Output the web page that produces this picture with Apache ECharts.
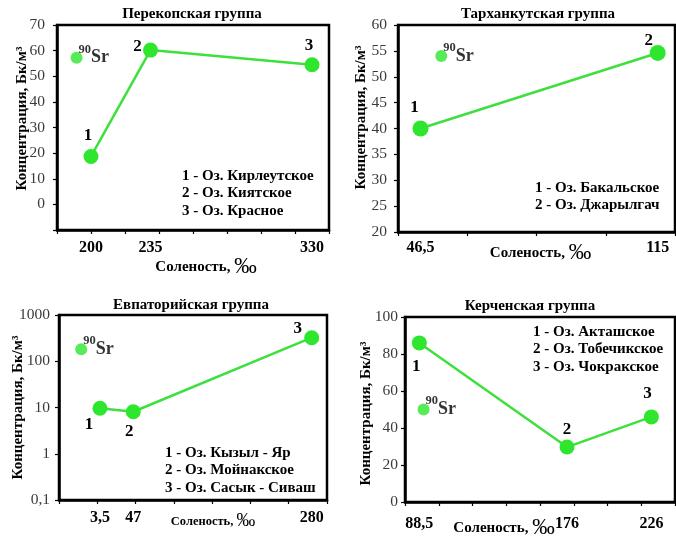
<!DOCTYPE html>
<html><head><meta charset="utf-8">
<script src="https://cdn.jsdelivr.net/npm/echarts@6/dist/echarts.min.js"></script>
<style>html,body{margin:0;padding:0;background:#fff}#c{width:676px;height:539px}</style>
</head><body><div id="c"></div>
<script>
// ---- Data ----
// Перекопская группа
const perekopSalinity = [200, 235, 330];
const perekopConc = [18.7, 60.2, 54.5];
const perekopLakes = ['1 - Оз. Кирлеутское', '2 - Оз. Киятское', '3 - Оз. Красное'];
const perekopSr = [191.5, 57.2];
// Тарханкутская группа
const tarkhSalinity = [46.5, 115];
const tarkhConc = [40, 54.6];
const tarkhLakes = ['1 - Оз. Бакальское', '2 - Оз. Джарылгач'];
const tarkhSr = [52.5, 54];
// Евпаторийская группа
const evpSalinity = [3.5, 47, 280];
const evpConc = [9.6, 8.1, 323];
const evpLakes = ['1 - Оз. Кызыл - Яр', '2 - Оз. Мойнакское', '3 - Оз. Сасык - Сиваш'];
const evpSr = [-21, 181];
// Керченская группа
const kerchSalinity = [88.5, 176, 226];
const kerchConc = [86, 29.7, 46];
const kerchLakes = ['1 - Оз. Акташское', '2 - Оз. Тобечикское', '3 - Оз. Чокракское'];
const kerchSr = [91, 50];

const pointNumbers = ['1', '2', '3'];
const yTitle = 'Концентрация, Бк/м³';
const xTitle = 'Соленость, ';

// ---- Styles / layout ----
const SERIF = '"Liberation Serif", "Times New Roman", serif';
const GREEN = '#2ee62e';
const LINE = '#3de03d';

const panels = [
  { title: 'Перекопская группа', titleX: 192, titleY: 7,
    grid: { left: 57, top: 25, width: 272, height: 205 },
    x: { min: 180, max: 340, interval: 20, margin: 10, nameGap: 26, namePad: [0, 0, 0, 26], nameSize: 15 },
    y: { type: 'value', min: -10, max: 70, interval: 10, margin: 12, nameGap: 27, namePad: [0, 0, 0, 18], hideMin: true },
    xs: perekopSalinity, ys: perekopConc, sr: perekopSr, lakes: perekopLakes,
    legend: { left: 182, top: 167 }, offsets: [[-3, -21], [-13, -4], [-3, -19]], size: 15 },
  { title: 'Тарханкутская группа', titleX: 538, titleY: 7,
    grid: { left: 398, top: 25, width: 277, height: 207 },
    x: { min: 40, max: 120, interval: 20, margin: 8, nameGap: 10, namePad: [0, 0, 0, 8], nameSize: 15 },
    y: { type: 'value', min: 20, max: 60, interval: 5, margin: 11, nameGap: 29, namePad: [0, 0, 0, 22] },
    xs: tarkhSalinity, ys: tarkhConc, sr: tarkhSr, lakes: tarkhLakes,
    legend: { left: 535, top: 179 }, offsets: [[-6, -21], [-9, -12]], size: 16 },
  { title: 'Евпаторийская группа', titleX: 191, titleY: 298,
    grid: { left: 59, top: 315, width: 268, height: 185 },
    x: { min: -50, max: 300, interval: 50, margin: 10, nameGap: 12, namePad: [0, 0, 0, 40], nameSize: 12.5 },
    y: { type: 'log', min: 0.1, max: 1000, margin: 9, nameGap: 33, namePad: [0, 0, 0, 0] },
    xs: evpSalinity, ys: evpConc, sr: evpSr, lakes: evpLakes,
    legend: { left: 165, top: 444 }, offsets: [[-11, 16], [-4, 20], [-14, -9]], size: 15 },
  { title: 'Керченская группа', titleX: 530, titleY: 299,
    grid: { left: 405, top: 317, width: 270, height: 185 },
    x: { min: 80, max: 240, interval: 20, margin: 14, nameGap: 15, namePad: [0, 72, 0, 0], nameSize: 15 },
    y: { type: 'value', min: 0, max: 100, interval: 20, margin: 7, nameGap: 31, namePad: [0, 8, 0, 0] },
    xs: kerchSalinity, ys: kerchConc, sr: kerchSr, lakes: kerchLakes,
    legend: { left: 533, top: 323 }, offsets: [[-3, 24], [0, -17], [-4, -23]], size: 15 }
];

const fmtNum = v => String(+Number(v).toPrecision(4)).replace('.', ',');

const option = {
  animation: false,
  backgroundColor: '#fff',
  title: [], grid: [], xAxis: [], yAxis: [], series: [], graphic: []
};

panels.forEach((p, i) => {
  option.title.push({
    text: p.title, left: p.titleX, top: p.titleY, textAlign: 'center', padding: 0,
    textStyle: { fontFamily: SERIF, fontWeight: 'bold', fontSize: 15, color: '#000' }
  });
  option.grid.push(Object.assign({
    show: true, borderColor: '#000', borderWidth: 2.5, containLabel: false, outerBoundsMode: 'none'
  }, p.grid));
  option.xAxis.push({
    type: 'value', gridIndex: i, min: p.x.min, max: p.x.max, interval: p.x.interval,
    name: '{a|' + xTitle + '}{b|‰}', nameLocation: 'middle', nameGap: p.x.nameGap,
    nameMoveOverlap: false,
    nameTextStyle: {
      padding: p.x.namePad,
      rich: {
        a: { fontFamily: SERIF, fontWeight: 'bold', fontSize: p.x.nameSize, color: '#000' },
        b: { fontFamily: SERIF, fontSize: p.x.nameSize * 1.5, color: '#000' }
      }
    },
    axisLine: { show: true, onZero: false, lineStyle: { color: '#000', width: 2.5 } },
    axisTick: { show: true, inside: false, length: 4, lineStyle: { color: '#000', width: 1.2 } },
    axisLabel: {
      customValues: p.xs, margin: p.x.margin, formatter: fmtNum, hideOverlap: false,
      fontFamily: SERIF, fontWeight: 'bold', fontSize: 16, color: '#000'
    },
    splitLine: { show: false }
  });
  const y = {
    type: p.y.type, gridIndex: i, min: p.y.min, max: p.y.max,
    name: yTitle, nameLocation: 'middle', nameGap: p.y.nameGap,
    nameMoveOverlap: false,
    nameTextStyle: { fontFamily: SERIF, fontWeight: 'bold', fontSize: 15, color: '#000', padding: p.y.namePad },
    axisLine: { show: true, onZero: false, lineStyle: { color: '#000', width: 2.5 } },
    axisTick: { show: true, inside: false, length: 4, lineStyle: { color: '#000', width: 1.2 } },
    axisLabel: {
      margin: p.y.margin, fontFamily: SERIF, fontSize: 15.5, color: '#3a3a3a',
      formatter: v => (p.y.hideMin && v === p.y.min) ? '' : fmtNum(v)
    },
    splitLine: { show: false }
  };
  if (p.y.type === 'log') { y.logBase = 10; } else { y.interval = p.y.interval; }
  option.yAxis.push(y);

  option.series.push({
    type: 'line', xAxisIndex: i, yAxisIndex: i,
    data: p.xs.map((x, j) => ({ value: [x, p.ys[j]], label: { offset: p.offsets[j] } })),
    symbol: 'circle', symbolSize: p.size, showSymbol: true,
    itemStyle: { color: GREEN },
    lineStyle: { color: LINE, width: 2.5 },
    label: {
      show: true, position: ['50%', '50%'], align: 'center', verticalAlign: 'middle',
      formatter: prm => pointNumbers[prm.dataIndex],
      fontFamily: SERIF, fontWeight: 'bold', fontSize: 17, color: '#000'
    },
    z: 3
  });
  option.series.push({
    type: 'scatter', xAxisIndex: i, yAxisIndex: i,
    data: [p.sr], symbol: 'circle', symbolSize: 12,
    itemStyle: { color: GREEN },
    label: {
      show: true, position: 'right', distance: -4,
      formatter: '{s|90}{t|Sr}',
      rich: {
        s: { fontFamily: SERIF, fontWeight: 'bold', fontSize: 12.5, color: '#000', verticalAlign: 'top', lineHeight: 12 },
        t: { fontFamily: SERIF, fontWeight: 'bold', fontSize: 18, color: '#000', lineHeight: 30 }
      }
    },
    z: 3
  });
  option.graphic.push({
    type: 'text', left: p.legend.left, top: p.legend.top,
    style: { text: p.lakes.join('\n'), font: 'bold 15px ' + SERIF, lineHeight: 17.5, fill: '#000' }
  });
});

const chart = echarts.init(document.getElementById('c'), null, { renderer: 'canvas' });
chart.setOption(option);
</script>
</body></html>
